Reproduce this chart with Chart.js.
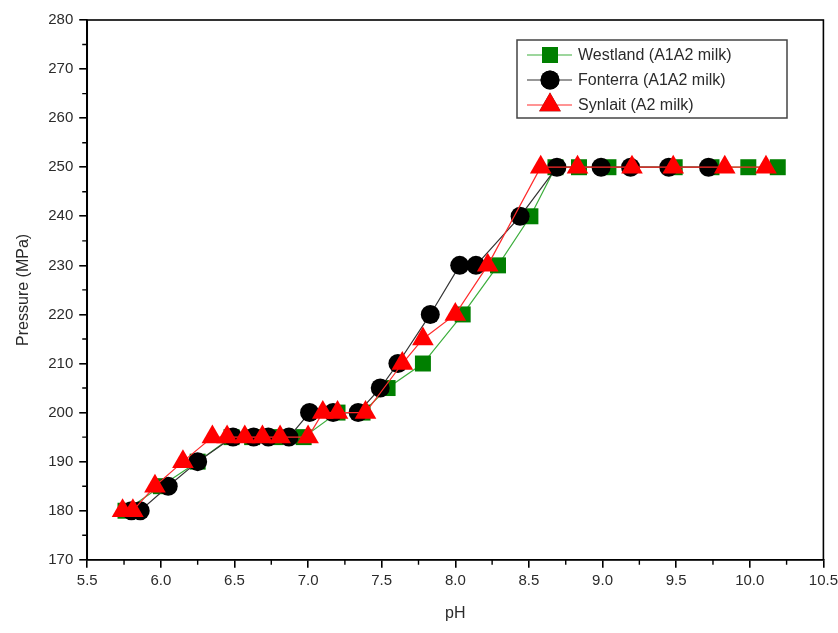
<!DOCTYPE html>
<html>
<head>
<meta charset="utf-8">
<script src="https://cdn.jsdelivr.net/npm/chart.js@4/dist/chart.umd.min.js"></script>
<style>
  html, body { margin: 0; padding: 0; background: #fff; overflow: hidden; }
  #wrap { width: 838px; height: 633px; overflow: hidden; }
  #c { display: block; }
</style>
</head>
<body>
<div id="wrap"><canvas id="c" width="842" height="633"></canvas></div>
<script>
// Pressure needed at each pH for three milk sources
const westlandPH = [5.76, 6.00, 6.25, 6.48, 6.62, 6.78, 6.97, 7.20, 7.37, 7.54, 7.78, 8.05, 8.29, 8.51, 8.68, 8.84, 9.04, 9.49, 9.74, 9.99, 10.19];
const westlandP  = [180, 185, 190, 195, 195, 195, 195, 200, 200, 205, 210, 220, 230, 240, 250, 250, 250, 250, 250, 250, 250];

const fonterraPH = [5.80, 5.86, 6.05, 6.25, 6.49, 6.63, 6.73, 6.87, 7.01, 7.17, 7.34, 7.49, 7.61, 7.83, 8.03, 8.14, 8.44, 8.69, 8.99, 9.19, 9.45, 9.72];
const fonterraP  = [180, 180, 185, 190, 195, 195, 195, 195, 200, 200, 200, 205, 210, 220, 230, 230, 240, 250, 250, 250, 250, 250];

const synlaitPH = [5.74, 5.81, 5.96, 6.15, 6.35, 6.45, 6.57, 6.69, 6.81, 7.00, 7.10, 7.20, 7.39, 7.64, 7.78, 8.00, 8.22, 8.58, 8.83, 9.20, 9.48, 9.83, 10.11];
const synlaitP  = [180, 180, 185, 190, 195, 195, 195, 195, 195, 195, 200, 200, 200, 210, 215, 220, 230, 250, 250, 250, 250, 250, 250];

const seriesNames = ['Westland (A1A2 milk)', 'Fonterra (A1A2 milk)', 'Synlait (A2 milk)'];

const xTitle = 'pH';
const yTitle = 'Pressure (MPa)';

const toPoints = (xs, ys) => xs.map((x, i) => ({ x: x, y: ys[i] }));

const FONT = '"Liberation Sans", Arial, sans-serif';
const TEXT = '#2b2b2b';

// axis frame, minor ticks and a boxed legend
const framePlugin = {
  id: 'frame',
  afterDraw(chart) {
    const { ctx, chartArea: a, scales } = chart;
    ctx.save();
    ctx.strokeStyle = '#000';
    ctx.lineWidth = 1.6;
    ctx.strokeRect(a.left, a.top, a.right - a.left, a.bottom - a.top);

    // minor ticks
    ctx.lineWidth = 1.4;
    ctx.beginPath();
    for (let v = 5.75; v < 10.5; v += 0.5) {
      const px = scales.x.getPixelForValue(v);
      ctx.moveTo(px, a.bottom);
      ctx.lineTo(px, a.bottom + 5);
    }
    for (let v = 175; v < 280; v += 10) {
      const py = scales.y.getPixelForValue(v);
      ctx.moveTo(a.left, py);
      ctx.lineTo(a.left - 5, py);
    }
    ctx.stroke();

    // legend
    const bx = 517, by = 40, bw = 270, bh = 78;
    ctx.fillStyle = '#fff';
    ctx.fillRect(bx, by, bw, bh);
    ctx.strokeStyle = '#444';
    ctx.lineWidth = 1.5;
    ctx.strokeRect(bx, by, bw, bh);
    const rows = [55, 80, 105];
    ctx.font = '16px ' + FONT;
    ctx.textBaseline = 'middle';
    chart.data.datasets.forEach((ds, i) => {
      const y = rows[i];
      ctx.strokeStyle = ds.borderColor;
      ctx.lineWidth = 1.2;
      ctx.beginPath();
      ctx.moveTo(527, y);
      ctx.lineTo(572, y);
      ctx.stroke();
      Chart.helpers.drawPoint(ctx, {
        pointStyle: ds.pointStyle,
        radius: ds.pointRadius,
        borderWidth: 0
      }, 550, y);
      ctx.fillStyle = ds.pointBackgroundColor;
      ctx.fill();
      ctx.fillStyle = TEXT;
      ctx.fillText(ds.label, 578, y + 1);
    });
    ctx.restore();
  }
};

new Chart(document.getElementById('c'), {
  type: 'line',
  data: {
    datasets: [
      {
        label: seriesNames[0],
        data: toPoints(westlandPH, westlandP),
        borderColor: '#3cae3c',
        borderWidth: 1.2,
        pointStyle: 'rect',
        pointRadius: 11.3,
        pointBackgroundColor: '#007f00',
        pointBorderWidth: 0,
        order: 3
      },
      {
        label: seriesNames[1],
        data: toPoints(fonterraPH, fonterraP),
        borderColor: '#333333',
        borderWidth: 1.2,
        pointStyle: 'circle',
        pointRadius: 9.5,
        pointBackgroundColor: '#000000',
        pointBorderWidth: 0,
        order: 2
      },
      {
        label: seriesNames[2],
        data: toPoints(synlaitPH, synlaitP),
        borderColor: '#ff2a2a',
        borderWidth: 1.2,
        pointStyle: 'triangle',
        pointRadius: 12.5,
        pointBackgroundColor: '#ff0000',
        pointBorderWidth: 0,
        order: 1
      }
    ]
  },
  options: {
    responsive: false,
    animation: false,
    devicePixelRatio: 1,
    parsing: true,
    clip: false,
    layout: { padding: { top: 20, right: 2, bottom: 10, left: 14 } },
    plugins: {
      legend: { display: false },
      tooltip: { enabled: false }
    },
    scales: {
      x: {
        type: 'linear',
        min: 5.5,
        max: 10.5,
        ticks: {
          stepSize: 0.5,
          autoSkip: false,
          color: TEXT,
          font: { family: FONT, size: 15 },
          padding: 4,
          maxRotation: 0,
          callback: v => v.toFixed(1)
        },
        grid: { drawOnChartArea: false, tickLength: 8, color: '#000', lineWidth: 1.6 },
        border: { display: true, color: '#000', width: 1.6 },
        title: { display: true, text: xTitle, color: TEXT, font: { family: FONT, size: 16 }, padding: { top: 10, bottom: 0 } }
      },
      y: {
        type: 'linear',
        min: 170,
        max: 280,
        ticks: {
          stepSize: 10,
          autoSkip: false,
          color: TEXT,
          font: { family: FONT, size: 15 },
          padding: 6
        },
        grid: { drawOnChartArea: false, tickLength: 8, color: '#000', lineWidth: 1.6 },
        border: { display: true, color: '#000', width: 1.6 },
        title: { display: true, text: yTitle, color: TEXT, font: { family: FONT, size: 16 }, padding: { top: 0, bottom: 9 } }
      }
    }
  },
  plugins: [framePlugin]
});
</script>
</body>
</html>
